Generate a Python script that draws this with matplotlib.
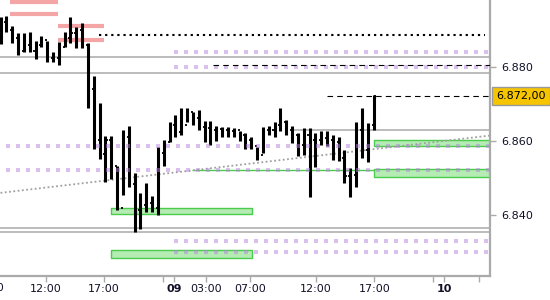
import numpy as np
import matplotlib
matplotlib.use("Agg")
import matplotlib.pyplot as plt
import matplotlib.transforms as mtransforms

plt.rcParams['lines.scale_dashes'] = False
plt.rcParams['font.family'] = ['DejaVu Sans']

# 30-minute OHLC bars (index positions)
highs = [6.8934, 6.8937, 6.8910, 6.8891, 6.8891, 6.8894, 6.8869, 6.8883, 6.8869, 6.8840,
         6.8867, 6.8894, 6.8934, 6.8907, 6.8918, 6.8864, 6.8775, 6.8702, 6.8613, 6.8613,
         6.8532, 6.8629, 6.8640, 6.8513, 6.8459, 6.8486, 6.8451, 6.8583, 6.8602, 6.8651,
         6.8669, 6.8688, 6.8688, 6.8678, 6.8683, 6.8653, 6.8653, 6.8640, 6.8637, 6.8637,
         6.8634, 6.8626, 6.8621, 6.8610, 6.8583, 6.8637, 6.8640, 6.8651, 6.8688, 6.8656,
         6.8640, 6.8621, 6.8634, 6.8634, 6.8621, 6.8626, 6.8626, 6.8615, 6.8610, 6.8575,
         6.8526, 6.8651, 6.8688, 6.8648, 6.8724]
lows = [6.8861, 6.8894, 6.8864, 6.8832, 6.8840, 6.8840, 6.8821, 6.8853, 6.8813, 6.8813,
        6.8805, 6.8853, 6.8864, 6.8851, 6.8851, 6.8688, 6.8578, 6.8551, 6.8488, 6.8496,
        6.8413, 6.8453, 6.8475, 6.8353, 6.8361, 6.8407, 6.8407, 6.8399, 6.8532, 6.8596,
        6.8610, 6.8615, 6.8651, 6.8642, 6.8629, 6.8596, 6.8588, 6.8599, 6.8610, 6.8610,
        6.8610, 6.8599, 6.8578, 6.8578, 6.8548, 6.8567, 6.8615, 6.8610, 6.8626, 6.8615,
        6.8594, 6.8559, 6.8561, 6.8448, 6.8529, 6.8588, 6.8586, 6.8548, 6.8545, 6.8486,
        6.8448, 6.8475, 6.8553, 6.8542, 6.8629]
closes = [6.8921, 6.8899, 6.8878, 6.8842, 6.8859, 6.8842, 6.8859, 6.8872, 6.8823, 6.8823,
          6.8853, 6.8878, 6.8891, 6.8899, 6.8859, 6.8740, 6.8602, 6.8564, 6.8602, 6.8532,
          6.8418, 6.8610, 6.8483, 6.8413, 6.8426, 6.8432, 6.8418, 6.8567, 6.8596, 6.8642,
          6.8623, 6.8642, 6.8678, 6.8661, 6.8637, 6.8634, 6.8629, 6.8631, 6.8629, 6.8626,
          6.8629, 6.8615, 6.8602, 6.8586, 6.8561, 6.8629, 6.8629, 6.8642, 6.8651, 6.8629,
          6.8615, 6.8588, 6.8615, 6.8602, 6.8602, 6.8607, 6.8602, 6.8596, 6.8553, 6.8505,
          6.8507, 6.8629, 6.8575, 6.8642, 6.8720]
opens = [6.8930] + closes[:-1]

# x axis labels (bar index positions)
tick_pos = [7.8, 17.75, 29.8, 35.2, 42.8, 54.1, 64.1, 76.1]
tick_lbl = ['12:00', '17:00', '09', '03:00', '07:00', '12:00', '17:00', '10']
minor_pos = [27.9, 74.2, 82.1]
yticks = [6.840, 6.860, 6.880]
last_price = 6.872

# levels: value, start index, end index
pink_levels = [(6.8976, 1.6, 9.9), (6.8942, 1.6, 9.9), (6.8910, 9.9, 17.75), (6.8872, 9.9, 17.75)]
gray_full = [6.8827, 6.8782, 6.8363, 6.8352]
gray_part = [(6.8629, 50.0)]
purple_levels = [(6.8841, 29.8), (6.8800, 29.8), (6.8586, 1.0), (6.8521, 1.0), (6.8330, 29.8), (6.8300, 29.8)]
green_boxes = [(18.95, 43.1, 6.8403, 6.8418), (18.95, 43.1, 6.8284, 6.8304),
               (64.1, 84.5, 6.8586, 6.8601), (64.1, 84.5, 6.8503, 6.8523)]
green_line = (6.8521, 32.8, 64.1)
black_dotted = (6.8886, 16.9, 83.1)
black_dashed = [(6.8805, 36.4), (6.8720, 56.0)]
trend_x = [0, 84]
trend_y = [6.8459, 6.8614]

x0, x1 = -0.09, 83.96
y0, y1 = 6.82343, 6.89803

fig = plt.figure(figsize=(5.5, 3), dpi=100)
ax = fig.add_axes([0, 0.08, 490 / 550, 0.92])
ax.set_xlim(x0, x1)
ax.set_ylim(y0, y1)

for v in gray_full:
    ax.axhline(v, color='#aaaaaa', lw=1.1, zorder=1)
for v, s in gray_part:
    ax.hlines(v, s, x1, color='#aaaaaa', lw=1.1, zorder=1)

for v, s, e in pink_levels:
    ax.hlines(v, s, e, color='#f4a6a6', lw=3.0, zorder=1)

for s, e, lo, hi in green_boxes:
    ax.fill_between([s, e], lo, hi, facecolor='#b4ecb4', edgecolor='#4ccc4c', lw=1.0, zorder=2)
ax.hlines(green_line[0], green_line[1], green_line[2], color='#4ccc4c', lw=1.0, zorder=2)

ax.plot(trend_x, trend_y, color='#a0a0a0', lw=1.3, linestyle=(0, (1.3, 1.8)), zorder=2)

# OHLC bars
idx = np.arange(len(highs))
ax.vlines(idx, lows, highs, color='black', lw=2.2, zorder=3)
ax.hlines(opens, idx - 0.35, idx, color='black', lw=1.3, zorder=3)
ax.hlines(closes, idx, idx + 0.35, color='black', lw=1.3, zorder=3)

for v, s in purple_levels:
    ax.hlines(v, s, x1, color='#b583dc', alpha=0.5, lw=2.9, linestyle=(0, (2.9, 4.3)), zorder=4)

ax.hlines(black_dotted[0], black_dotted[1], black_dotted[2], color='black', lw=1.5,
          linestyle=(0, (1.6, 2.8)), zorder=4)
for v, s in black_dashed:
    ax.hlines(v, s, x1, color='black', lw=0.8, linestyle=(0, (4.0, 3.0)), zorder=4)

for sp in ['top', 'left']:
    ax.spines[sp].set_visible(False)
for sp in ['bottom', 'right']:
    ax.spines[sp].set_color('#aaaaaa')
    ax.spines[sp].set_linewidth(1.6)

ax.yaxis.tick_right()
ax.set_yticks(yticks)
ax.set_yticklabels(['%.3f' % v for v in yticks])
ax.tick_params(axis='y', length=4, width=1, color='#aaaaaa', pad=4, labelsize=8, labelcolor='#101028')
ax.set_xticks(tick_pos)
ax.set_xticklabels(tick_lbl)
ax.set_xticks(minor_pos, minor=True)
ax.tick_params(axis='x', which='both', length=4, width=1, color='#aaaaaa', pad=2,
               labelsize=8, labelcolor='#101028')
for lbl in ax.get_xticklabels():
    if lbl.get_text() in ('09', '10'):
        lbl.set_fontweight('bold')

# partially visible label at the left edge
ax.text(-2.2, -0.025, '07:00', transform=mtransforms.blended_transform_factory(ax.transData, ax.transAxes),
        ha='center', va='top', fontsize=8, color='#101028', clip_on=False)

# last price box
ax.text(1.013, last_price, '6.872,00', transform=mtransforms.blended_transform_factory(ax.transAxes, ax.transData),
        ha='left', va='center', fontsize=8, color='black', clip_on=False,
        bbox=dict(boxstyle='square,pad=0.35', facecolor='#f6c500', edgecolor='#999999', lw=1))

fig.savefig('out.png', dpi=100)
